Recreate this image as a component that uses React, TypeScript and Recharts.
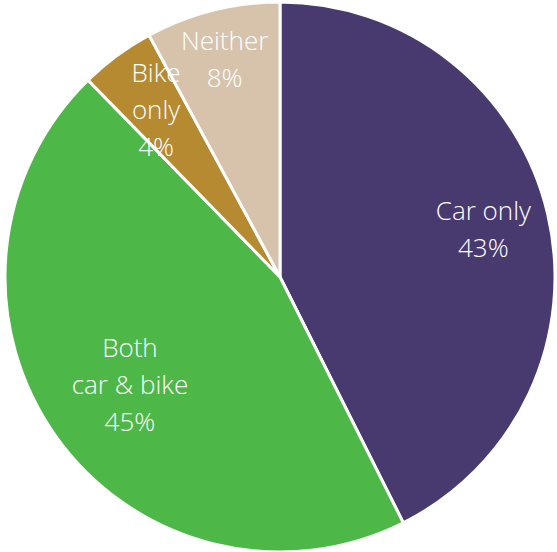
import { PieChart, Pie, Cell } from "recharts";

const categories = ["Car only", "Both car & bike", "Bike only", "Neither"];
const labelLines = [["Car only"], ["Both", "car & bike"], ["Bike", "only"], ["Neither"]];
const shares = [42.6, 45.1, 4.4, 7.9];
const colors = ["#483a6f", "#4db748", "#b58a30", "#d7c3ab"];
// how far out each label sits, as a share of the radius
const labelDist = [0.76, 0.67, 0.76, 0.82];

const data = categories.map((name, i) => ({ name, value: shares[i] }));

const RAD = Math.PI / 180;

function SliceLabel(props: any) {
  const { cx, cy, midAngle, outerRadius, index } = props;
  const r = outerRadius * labelDist[index];
  const x = cx + r * Math.cos(-midAngle * RAD);
  const y = cy + r * Math.sin(-midAngle * RAD);
  const lines = [...labelLines[index], `${Math.round(shares[index])}%`];
  const lh = 37;
  const top = y - ((lines.length - 1) * lh) / 2;
  return (
    <text
      x={x}
      y={top}
      fill="#ffffff"
      textAnchor="middle"
      dominantBaseline="central"
      fontSize={26}
      fontFamily="'Open Sans', Lato, sans-serif"
      fontWeight={300}
    >
      {lines.map((l, i) => (
        <tspan key={i} x={x} dy={i === 0 ? 0 : lh}>
          {l}
        </tspan>
      ))}
    </text>
  );
}

export default function App() {
  return (
    <div style={{ position: "absolute", left: 0, top: 0, background: "#fff" }}>
      <PieChart width={557} height={552} margin={{ top: 0, right: 0, bottom: 0, left: 0 }}>
        <Pie
          data={data}
          dataKey="value"
          nameKey="name"
          cx={280}
          cy={277}
          outerRadius={275}
          startAngle={90}
          endAngle={-270}
          stroke="#ffffff"
          strokeWidth={3}
          label={SliceLabel}
          labelLine={false}
          isAnimationActive={false}
        >
          {data.map((_, i) => (
            <Cell key={i} fill={colors[i]} />
          ))}
        </Pie>
      </PieChart>
    </div>
  );
}
